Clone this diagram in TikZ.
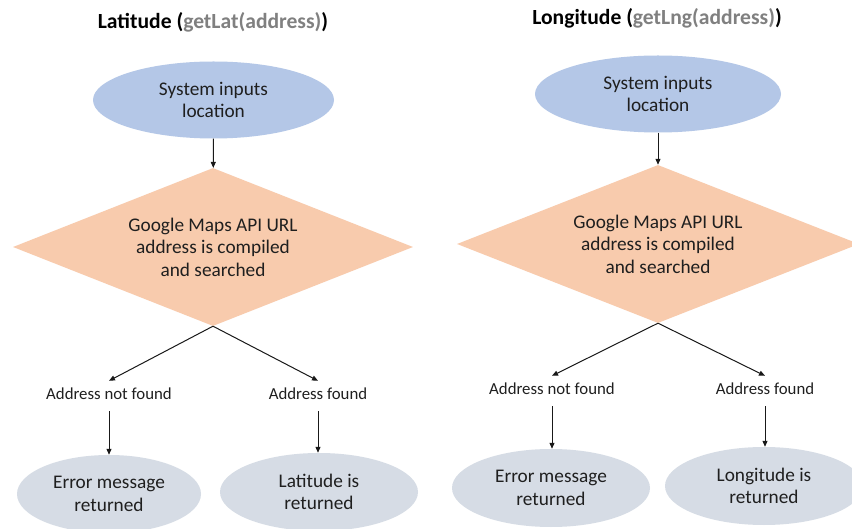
\documentclass[tikz,border=0pt]{standalone}
\usepackage{fontspec}
\setmainfont{Carlito}
\usetikzlibrary{shapes.geometric,arrows.meta}
\definecolor{inblue}{HTML}{B4C7E7}
\definecolor{decor}{HTML}{F8CBAD}
\definecolor{outgray}{HTML}{D6DCE5}
\definecolor{codegray}{HTML}{808080}
\definecolor{txt}{HTML}{1F1F1F}
\begin{document}
\begin{tikzpicture}[x=1pt,y=-1pt,
  maintext/.style={font=\fontsize{19.3}{22.5}\selectfont, text=txt, align=center},
  startell/.style={ellipse, fill=inblue, minimum width=241pt, minimum height=77pt, inner sep=0pt, maintext},
  decision/.style={diamond, fill=decor, aspect=2.53, minimum width=400pt, minimum height=158pt, inner sep=0pt, maintext},
  endell/.style={ellipse, fill=outgray, minimum width=198pt, minimum height=78pt, inner sep=0pt, maintext},
  branchlabel/.style={font=\fontsize{16.8}{20}\selectfont, text=txt, inner xsep=0pt, inner ysep=7pt, text height=12pt, text depth=4pt},
  flow/.style={-{Triangle[length=6pt,width=5pt]}, line width=1pt, draw=black!90},
  heading/.style={font=\bfseries\fontsize{21.6}{26}\selectfont, text=black}]
\fill[white] (0,0) rectangle (852,529);
\useasboundingbox (0,0) rectangle (852,529);

% ---- Left column: Latitude
\node[heading] (t1) at (213,22) {Latitude (\textcolor{codegray}{getLat(address)})};
\node[startell] (s1) at (213.5,100) {System inputs\\location};
\node[decision] (d1) at (213,247) {Google Maps API URL\\address is compiled\\and searched};
\node[branchlabel] (n1) at (109,396) {Address not found};
\node[branchlabel] (f1) at (318,396) {Address found};
\node[endell, minimum width=184pt] (e1) at (109,494) {Error message\\returned};
\node[endell] (r1) at (319,492) {Latitude is\\returned};
\draw[flow] (s1) -- (d1);
\draw[flow] (d1.south) -- (n1.north);
\draw[flow] (d1.south) -- (f1.north);
\draw[flow] (n1.south) -- (n1.south |- e1.north);
\draw[flow] (f1.south) -- (f1.south |- r1.north);

% ---- Right column: Longitude
\node[heading] (t2) at (657,18) {Longitude (\textcolor{codegray}{getLng(address)})};
\node[startell, minimum width=246pt] (s2) at (658,94) {System inputs\\location};
\node[decision, minimum width=402pt] (d2) at (658,244) {Google Maps API URL\\address is compiled\\and searched};
\node[branchlabel] (n2) at (552,391) {Address not found};
\node[branchlabel] (f2) at (765,391) {Address found};
\node[endell] (e2) at (551,488) {Error message\\returned};
\node[endell] (r2) at (764,486) {Longitude is\\returned};
\draw[flow] (s2) -- (d2);
\draw[flow] (d2.south) -- (n2.north);
\draw[flow] (d2.south) -- (f2.north);
\draw[flow] (n2.south) -- (n2.south |- e2.north);
\draw[flow] (f2.south) -- (f2.south |- r2.north);
\end{tikzpicture}
\end{document}
